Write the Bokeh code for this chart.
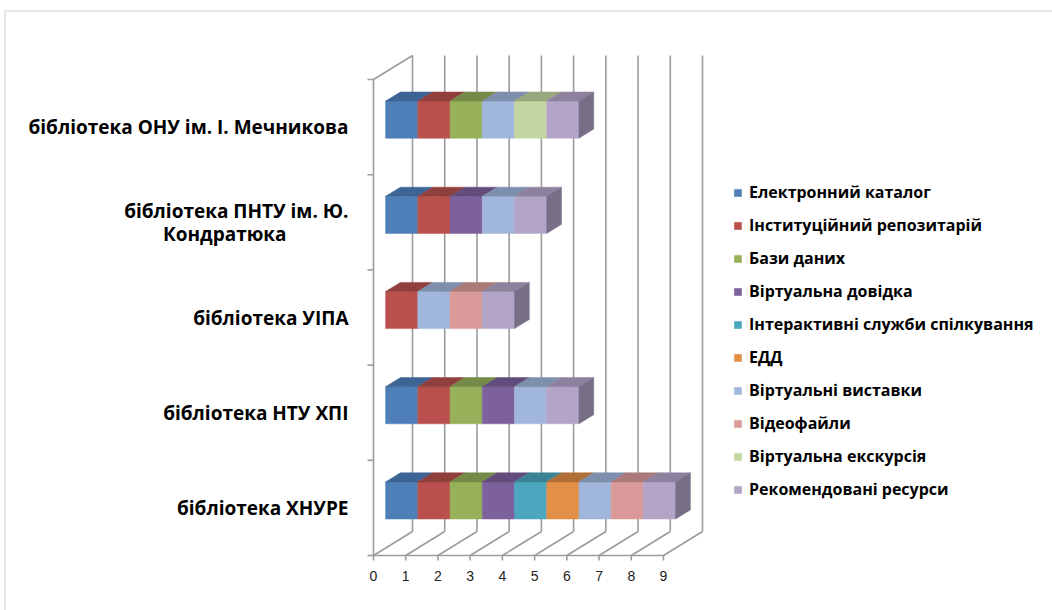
from bokeh.plotting import figure
from bokeh.models import Range1d, ColumnDataSource, Legend, LegendItem, BoxAnnotation
from bokeh.core.properties import value
from bokeh.embed import file_html
from bokeh.resources import INLINE

# ---- data -------------------------------------------------------------
libraries = [
    "бібліотека ХНУРЕ",
    "бібліотека НТУ ХПІ",
    "бібліотека УІПА",
    "бібліотека ПНТУ ім. Ю.\nКондратюка",
    "бібліотека ОНУ ім. І. Мечникова",
]

series_names = [
    "Електронний каталог",
    "Інституційний репозитарій",
    "Бази даних",
    "Віртуальна довідка",
    "Інтерактивні служби спілкування",
    "ЕДД",
    "Віртуальні виставки",
    "Відеофайли",
    "Віртуальна екскурсія",
    "Рекомендовані ресурси",
]

# one value per library (same order as `libraries`)
e_catalog      = [1, 1, 0, 1, 1]
inst_repo      = [1, 1, 1, 1, 1]
databases      = [1, 1, 0, 0, 1]
virt_reference = [1, 1, 0, 1, 0]
interactive    = [1, 0, 0, 0, 0]
edd            = [1, 0, 0, 0, 0]
virt_exhib     = [1, 1, 1, 1, 1]
video_files    = [1, 0, 1, 0, 0]
virt_tour      = [0, 0, 0, 0, 1]
recommended    = [1, 1, 1, 1, 1]

x_ticks = [0, 1, 2, 3, 4, 5, 6, 7, 8, 9]

series_values = [e_catalog, inst_repo, databases, virt_reference, interactive,
                 edd, virt_exhib, video_files, virt_tour, recommended]

front_colors = ["#4F7FB8", "#B9504D", "#97B05A", "#7C619C", "#4BA6BE",
                "#E38F47", "#A0B6DA", "#D99A99", "#C3D6A1", "#B3A5C8"]
top_colors   = ["#3D6495", "#913F3D", "#758A46", "#614C7B", "#3A8396",
                "#B06F37", "#7D8FAD", "#AB7978", "#98A77D", "#8D829E"]
side_colors  = ["#2F4E75", "#743230", "#5E6F38", "#4D3C62", "#2E6978",
                "#8C582C", "#64728B", "#896160", "#7A8664", "#786E88"]

# ---- layout / projection ---------------------------------------------
W, H = 1052, 610
UX = 290 / 9          # px per value unit
UY = 95.2             # px per category band
ORIGIN_X, ORIGIN_Y = 373, 555   # front-left-bottom corner of the floor (px)
DX = 39 / UX          # full depth offset, x (data units)
DY = 24 / UY          # full depth offset, y (data units)
F0, F1 = 0.31, 0.69   # bar depth fractions (front, back)
B_LO, B_HI = 0.305, 0.695
N = len(libraries)
XMAX = x_ticks[-1]

GRID = "#9C9C9C"
GW = 1.6
FONT = "Open Sans"
LABEL_SIZE = 19
LINE_GAP = 23         # px between wrapped label lines
EM_W = 0.543          # mean glyph advance of the label font, in em

p = figure(width=W, height=H, output_backend="svg", toolbar_location=None,
           x_range=Range1d(-ORIGIN_X / UX, (W - ORIGIN_X) / UX),
           y_range=Range1d(-(H - ORIGIN_Y) / UY, ORIGIN_Y / UY),
           min_border=0, outline_line_color=None)
p.axis.visible = False
p.grid.visible = False
p.background_fill_color = "white"
p.border_fill_color = "white"

# chart area border (continues past the right and bottom edges)
p.add_layout(BoxAnnotation(left=(4.5 - ORIGIN_X) / UX, top=(ORIGIN_Y - 10.5) / UY,
                           right=(W + 20 - ORIGIN_X) / UX, bottom=-(H + 20 - ORIGIN_Y) / UY,
                           fill_alpha=0, line_color="#8E8E8E", line_width=1.5))

# ---- walls, floor and grid -------------------------------------------
# back wall verticals
p.segment(x0=[v + DX for v in x_ticks], y0=[DY] * len(x_ticks),
          x1=[v + DX for v in x_ticks], y1=[N + DY] * len(x_ticks),
          line_color=GRID, line_width=GW)
# floor diagonals
p.segment(x0=x_ticks, y0=[0] * len(x_ticks),
          x1=[v + DX for v in x_ticks], y1=[DY] * len(x_ticks),
          line_color=GRID, line_width=GW)
# front value axis, left category axis, top edge of left wall
p.segment(x0=[0, 0, 0], y0=[0, 0, N], x1=[XMAX, 0, DX], y1=[0, N, N + DY],
          line_color=GRID, line_width=GW)
# tick marks
p.segment(x0=x_ticks, y0=[0] * len(x_ticks), x1=x_ticks, y1=[-5 / UY] * len(x_ticks),
          line_color=GRID, line_width=GW)
bounds = list(range(N + 1))
p.segment(x0=[-6 / UX] * len(bounds), y0=bounds, x1=[0] * len(bounds), y1=bounds,
          line_color=GRID, line_width=GW)

# ---- stacked 3-D bars --------------------------------------------------
cum = [0.0] * N
legend_items = []
depth_x = (F1 - F0) * DX
depth_y = (F1 - F0) * DY
last_series = [None] * N
for k, (name, vals) in enumerate(zip(series_names, series_values)):
    left, right, bottom, top = [], [], [], []
    txs, tys = [], []
    for i, v in enumerate(vals):
        if v <= 0:
            continue
        l = cum[i] + F0 * DX
        r = cum[i] + v + F0 * DX
        b = i + B_LO + F0 * DY
        t = i + B_HI + F0 * DY
        left.append(l); right.append(r); bottom.append(b); top.append(t)
        txs.append([l, r, r + depth_x, l + depth_x])
        tys.append([t, t, t + depth_y, t + depth_y])
        cum[i] += v
        last_series[i] = k
    src = ColumnDataSource(dict(left=left, right=right, bottom=bottom, top=top))
    rend = p.quad(left="left", right="right", bottom="bottom", top="top", source=src,
                  fill_color=front_colors[k], line_color=front_colors[k], line_width=0.5)
    p.patches(xs=txs, ys=tys, fill_color=top_colors[k], line_color=top_colors[k],
              line_width=0.5)
    legend_items.append(LegendItem(label=name, renderers=[rend]))

# right-hand end faces
sxs, sys_, scol = [], [], []
for i in range(N):
    if last_series[i] is None:
        continue
    R = cum[i] + F0 * DX
    b = i + B_LO + F0 * DY
    t = i + B_HI + F0 * DY
    sxs.append([R, R + depth_x, R + depth_x, R])
    sys_.append([b, b + depth_y, t + depth_y, t])
    scol.append(side_colors[last_series[i]])
p.patches(xs=sxs, ys=sys_, fill_color=scol, line_color=scol, line_width=0.5)

# ---- texts -------------------------------------------------------------
p.text(x=x_ticks, y=[-20 / UY] * len(x_ticks), text=[str(v) for v in x_ticks],
       text_align="center", text_baseline="middle", text_font=value("Liberation Sans"),
       text_font_size="14px", text_color="#222222")

# category labels: wrapped lines are centred on the widest line,
# the block is right-aligned against the category axis
lx, ly, lt, loff = [], [], [], []
for i, lab in enumerate(libraries):
    lines = lab.split("\n")
    widths = [EM_W * LABEL_SIZE * len(s) for s in lines]
    wmax = max(widths)
    n = len(lines)
    for j, (s, w) in enumerate(zip(lines, widths)):
        lx.append(-25 / UX)
        ly.append(i + 0.5 + ((n - 1) / 2 - j) * LINE_GAP / UY)
        lt.append(s)
        loff.append(-(wmax - w) / 2)
p.text(x=lx, y=ly, text=lt, x_offset=loff,
       text_align="right", text_baseline="middle", text_font=value(FONT),
       text_font_style="bold", text_font_size=f"{LABEL_SIZE}px", text_color="black")

legend = Legend(items=legend_items, location=(733, 110), orientation="vertical",
                padding=0, margin=0, spacing=11, label_height=22, glyph_width=9,
                glyph_height=9, label_standoff=7, border_line_color=None,
                background_fill_alpha=0, label_text_font=FONT,
                label_text_font_style="bold", label_text_font_size="16px",
                label_text_color="black")
p.add_layout(legend)

open("out.html", "w").write(file_html(p, INLINE))
